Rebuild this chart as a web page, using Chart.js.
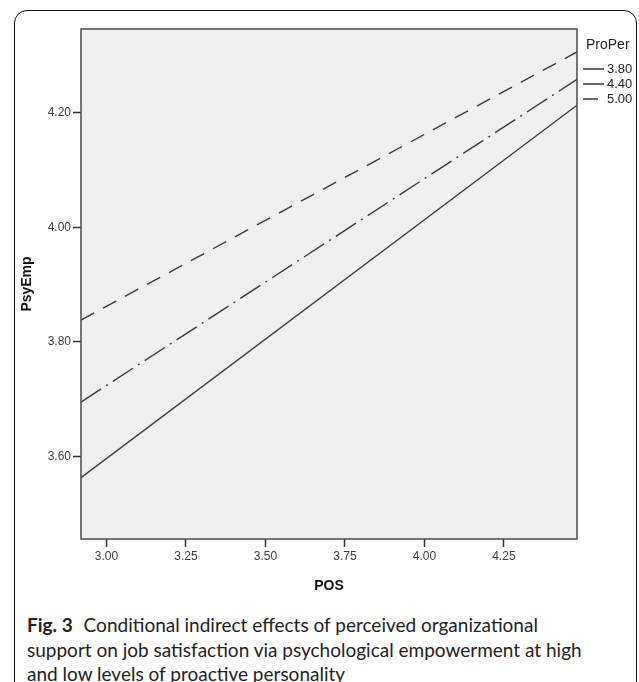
<!DOCTYPE html>
<html>
<head>
<meta charset="utf-8">
<script src="https://cdn.jsdelivr.net/npm/chart.js@4/dist/chart.umd.min.js"></script>
<style>
  body { margin: 0; background: #fff; width: 639px; height: 682px; overflow: hidden; position: relative; }
  #frame {
    position: absolute; left: 14px; top: 10px; width: 623px; height: 690px;
    border: 1.5px solid #111; border-radius: 13px; box-sizing: border-box;
  }
  #wrap { position: absolute; left: 0; top: 0; width: 639px; height: 595px; }
  #caption {
    position: absolute; left: 27px; top: 613px; width: 610px; white-space: nowrap;
    font-family: Lato, "Open Sans", sans-serif; font-size: 19px; line-height: 24.5px; color: #222;
  }
  #caption b { font-weight: bold; margin-right: 6px; }
</style>
</head>
<body>
<div id="frame"></div>
<div id="wrap"><canvas id="myChart" width="639" height="595"></canvas></div>
<div id="caption"><b>Fig. 3</b> Conditional indirect effects of perceived organizational<br>support on job satisfaction via psychological empowerment at high<br>and low levels of proactive personality</div>
<script>
// POS values at the two ends of each fitted line
const posValues = [2.92, 4.48];

// PsyEmp at low / medium / high ProPer
const proPerLabels = ['3.80', '4.40', '5.00'];
const psyEmpLow = [3.563, 4.213];
const psyEmpMid = [3.695, 4.258];
const psyEmpHigh = [3.838, 4.306];

const xTicks = [3.00, 3.25, 3.50, 3.75, 4.00, 4.25];
const yTicks = [3.60, 3.80, 4.00, 4.20];

const lineColor = '#3a3a3a';
const dashes = [[], [24, 6, 2, 6], [15, 10]];

function toPoints(vals) {
    return vals.map((v, i) => ({ x: posValues[i], y: v }));
}

// grey plot background + frame round the plot area
const plotFrame = {
    id: 'plotFrame',
    beforeDraw(chart) {
        const { ctx, chartArea: a } = chart;
        ctx.save();
        ctx.fillStyle = '#f0f0f0';
        ctx.fillRect(a.left, a.top, a.right - a.left, a.bottom - a.top);
        ctx.restore();
    },
    afterDraw(chart) {
        const { ctx, chartArea: a } = chart;
        ctx.save();
        ctx.strokeStyle = '#4a4a4a';
        ctx.lineWidth = 1.5;
        ctx.strokeRect(a.left, a.top, a.right - a.left, a.bottom - a.top);
        ctx.restore();
    }
};

// SPSS style legend to the right of the plot
const sideLegend = {
    id: 'sideLegend',
    afterDraw(chart) {
        const { ctx, chartArea: a } = chart;
        const x0 = a.right + 6;
        ctx.save();
        ctx.fillStyle = '#222';
        ctx.font = '14px "Liberation Sans", Arial, sans-serif';
        ctx.textBaseline = 'middle';
        ctx.textAlign = 'left';
        ctx.fillText('ProPer', x0 + 3, 45);
        chart.data.datasets.forEach((ds, i) => {
            const y = 69 + i * 15;
            ctx.strokeStyle = ds.borderColor;
            ctx.lineWidth = 1.5;
            ctx.setLineDash(ds.borderDash);
            ctx.beginPath();
            ctx.moveTo(x0, y);
            ctx.lineTo(x0 + 21, y);
            ctx.stroke();
            ctx.setLineDash([]);
            ctx.font = '13px "Liberation Sans", Arial, sans-serif';
            ctx.fillText(ds.label, x0 + 24, y);
        });
        ctx.restore();
    }
};

const tickFont = { family: '"Liberation Sans", Arial, sans-serif', size: 12 };

const ctx = document.getElementById('myChart').getContext('2d');
new Chart(ctx, {
    type: 'line',
    data: {
        datasets: [psyEmpLow, psyEmpMid, psyEmpHigh].map((vals, i) => ({
            label: proPerLabels[i],
            data: toPoints(vals),
            borderColor: lineColor,
            borderWidth: 1.4,
            borderDash: dashes[i],
            pointRadius: 0,
            fill: false,
            tension: 0
        }))
    },
    options: {
        responsive: false,
        animation: false,
        layout: { padding: { left: 19, top: 29, right: 62, bottom: 0 } },
        plugins: { legend: { display: false }, tooltip: { enabled: false } },
        scales: {
            x: {
                type: 'linear',
                min: posValues[0],
                max: posValues[1],
                afterFit: s => { s.height = 56; },
                afterBuildTicks: s => { s.ticks = xTicks.map(v => ({ value: v })); },
                grid: { drawOnChartArea: false, tickLength: 8, color: '#333', tickWidth: 1.5 },
                border: { display: false },
                ticks: {
                    padding: 2,
                    maxRotation: 0,
                    color: '#3c3c3c',
                    font: tickFont,
                    callback: v => Number(v).toFixed(2)
                },
                title: {
                    display: true, text: 'POS', color: '#111', padding: 0,
                    font: { family: '"Liberation Sans", Arial, sans-serif', size: 14, weight: 'bold' }
                }
            },
            y: {
                min: 3.456,
                max: 4.346,
                afterFit: s => { s.width = 62; },
                afterBuildTicks: s => { s.ticks = yTicks.map(v => ({ value: v })); },
                grid: { drawOnChartArea: false, tickLength: 8, color: '#333', tickWidth: 1.5 },
                border: { display: false },
                ticks: {
                    padding: 2,
                    color: '#3c3c3c',
                    font: tickFont,
                    callback: v => Number(v).toFixed(2)
                },
                title: {
                    display: true, text: 'PsyEmp', color: '#111', padding: 0,
                    font: { family: '"Liberation Sans", Arial, sans-serif', size: 14, weight: 'bold' }
                }
            }
        }
    },
    plugins: [plotFrame, sideLegend]
});
</script>
</body>
</html>
